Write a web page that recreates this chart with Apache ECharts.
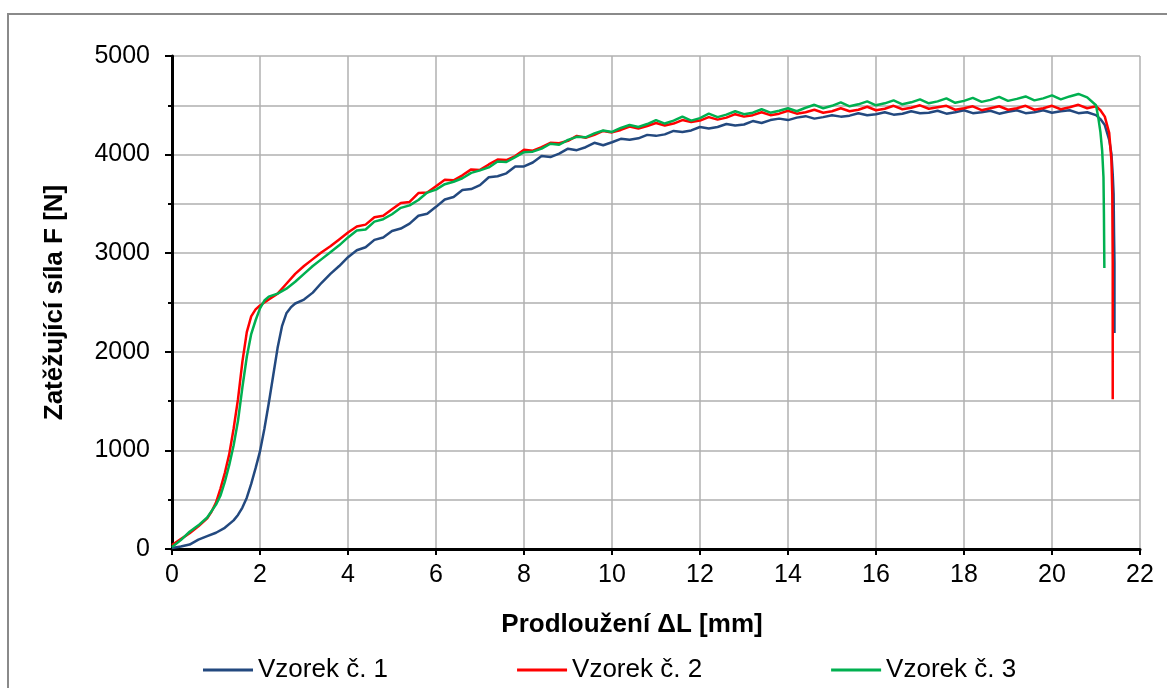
<!DOCTYPE html>
<html>
<head>
<meta charset="utf-8">
<script src="https://cdn.jsdelivr.net/npm/echarts@6/dist/echarts.min.js"></script>
<style>
  html, body { margin: 0; padding: 0; background: #fff; }
  #chart { width: 1167px; height: 688px; }
</style>
</head>
<body>
<div id="chart"></div>
<script>
// axis ticks
const X_TICKS = { min: 0, max: 22, step: 2 }
const Y_TICKS = { min: 0, max: 5000, step: 1000 }

const SERIES_NAMES = ['Vzorek č. 1', 'Vzorek č. 2', 'Vzorek č. 3']
const SERIES_COLORS = ['#23497f', '#ff0000', '#00b050']

// [prodloužení mm, síla N]
const vzorek1 = [
  [0, 10], [0.2, 25], [0.4, 45], [0.6, 95], [0.8, 130], [1.0, 165], [1.2, 215], [1.4, 290],
  [1.5, 345], [1.6, 420], [1.7, 520], [1.8, 660], [1.9, 820], [2.0, 990], [2.1, 1220],
  [2.2, 1480], [2.3, 1760], [2.4, 2040], [2.5, 2260], [2.6, 2390], [2.7, 2450], [2.8, 2490],
  [3.0, 2530], [3.2, 2600], [3.4, 2700], [3.6, 2790], [3.8, 2870],
  [4.0, 2960], [4.2, 3030], [4.4, 3060], [4.6, 3135], [4.8, 3160], [5.0, 3225], [5.2, 3250],
  [5.4, 3300], [5.6, 3380], [5.8, 3400], [6.0, 3470], [6.2, 3545], [6.4, 3570], [6.6, 3640],
  [6.8, 3650], [7.0, 3690], [7.2, 3770], [7.4, 3780], [7.6, 3810], [7.8, 3880], [8.0, 3880],
  [8.2, 3920], [8.4, 3985], [8.6, 3975], [8.8, 4010], [9.0, 4060], [9.2, 4045], [9.4, 4075],
  [9.6, 4120], [9.8, 4095], [10.0, 4125], [10.2, 4160], [10.4, 4150], [10.6, 4165], [10.8, 4200],
  [11.0, 4190], [11.2, 4205], [11.4, 4240], [11.6, 4230], [11.8, 4245], [12.0, 4280], [12.2, 4265],
  [12.4, 4280], [12.6, 4310], [12.8, 4295], [13.0, 4305], [13.2, 4340], [13.4, 4320], [13.6, 4350],
  [13.8, 4365], [14.0, 4350], [14.2, 4375], [14.4, 4390], [14.6, 4365], [14.8, 4380], [15.0, 4400],
  [15.2, 4385], [15.4, 4395], [15.6, 4420], [15.8, 4400], [16.0, 4410], [16.2, 4430], [16.4, 4405],
  [16.6, 4415], [16.8, 4440], [17.0, 4420], [17.2, 4425], [17.4, 4445], [17.6, 4415], [17.8, 4430],
  [18.0, 4450], [18.2, 4420], [18.4, 4430], [18.6, 4445], [18.8, 4415], [19.0, 4435], [19.2, 4450],
  [19.4, 4420], [19.6, 4430], [19.8, 4450], [20.0, 4425], [20.2, 4440], [20.4, 4450], [20.6, 4420],
  [20.8, 4430], [21.0, 4400], [21.1, 4360], [21.2, 4300], [21.3, 4150], [21.35, 4010], [21.38, 3800],
  [21.40, 3600], [21.41, 3200], [21.42, 2900], [21.42, 2190]
]

const vzorek2 = [
  [0, 40], [0.2, 100], [0.4, 160], [0.6, 230], [0.8, 310], [0.9, 380], [1.0, 470], [1.1, 610],
  [1.2, 770], [1.3, 960], [1.4, 1220], [1.5, 1520], [1.6, 1900], [1.7, 2200], [1.8, 2360],
  [1.9, 2430], [2.0, 2470], [2.2, 2530], [2.4, 2590], [2.6, 2690], [2.8, 2790], [3.0, 2870],
  [3.2, 2940], [3.4, 3010], [3.6, 3070], [3.8, 3140],
  [4.0, 3210], [4.2, 3270], [4.4, 3290], [4.6, 3365], [4.8, 3380], [5.0, 3445], [5.2, 3510],
  [5.4, 3520], [5.6, 3610], [5.8, 3615], [6.0, 3680], [6.2, 3745], [6.4, 3740], [6.6, 3790],
  [6.8, 3850], [7.0, 3845], [7.2, 3900], [7.4, 3950], [7.6, 3945], [7.8, 3985], [8.0, 4050],
  [8.2, 4040], [8.4, 4075], [8.6, 4120], [8.8, 4115], [9.0, 4140], [9.2, 4190], [9.4, 4170],
  [9.6, 4200], [9.8, 4240], [10.0, 4225], [10.2, 4250], [10.4, 4285], [10.6, 4265], [10.8, 4290],
  [11.0, 4320], [11.2, 4295], [11.4, 4315], [11.6, 4350], [11.8, 4330], [12.0, 4345], [12.2, 4380],
  [12.4, 4355], [12.6, 4375], [12.8, 4410], [13.0, 4385], [13.2, 4400], [13.4, 4430], [13.6, 4400],
  [13.8, 4415], [14.0, 4445], [14.2, 4415], [14.4, 4430], [14.6, 4455], [14.8, 4425], [15.0, 4440],
  [15.2, 4470], [15.4, 4440], [15.6, 4455], [15.8, 4485], [16.0, 4450], [16.2, 4465], [16.4, 4495],
  [16.6, 4460], [16.8, 4475], [17.0, 4500], [17.2, 4465], [17.4, 4480], [17.6, 4495], [17.8, 4455],
  [18.0, 4470], [18.2, 4490], [18.4, 4450], [18.6, 4470], [18.8, 4490], [19.0, 4455], [19.2, 4470],
  [19.4, 4495], [19.6, 4455], [19.8, 4470], [20.0, 4495], [20.2, 4460], [20.4, 4480], [20.6, 4505],
  [20.8, 4470], [21.0, 4490], [21.1, 4450], [21.2, 4385], [21.3, 4220], [21.35, 3950], [21.37, 3600],
  [21.38, 2900], [21.38, 1520]
]

const vzorek3 = [
  [0, 20], [0.2, 90], [0.4, 175], [0.6, 240], [0.8, 320], [1.0, 450], [1.1, 540], [1.2, 680],
  [1.3, 850], [1.4, 1050], [1.5, 1300], [1.6, 1640], [1.7, 1950], [1.8, 2180], [1.9, 2320],
  [2.0, 2440], [2.1, 2520], [2.2, 2560], [2.4, 2590], [2.6, 2640], [2.8, 2710], [3.0, 2790],
  [3.2, 2870], [3.4, 2940], [3.6, 3010], [3.8, 3080],
  [4.0, 3160], [4.2, 3230], [4.4, 3240], [4.6, 3320], [4.8, 3345], [5.0, 3395], [5.2, 3460],
  [5.4, 3485], [5.6, 3540], [5.8, 3615], [6.0, 3645], [6.2, 3700], [6.4, 3725], [6.6, 3760],
  [6.8, 3815], [7.0, 3840], [7.2, 3870], [7.4, 3930], [7.6, 3925], [7.8, 3975], [8.0, 4025],
  [8.2, 4030], [8.4, 4060], [8.6, 4110], [8.8, 4100], [9.0, 4150], [9.2, 4180], [9.4, 4175],
  [9.6, 4215], [9.8, 4245], [10.0, 4230], [10.2, 4270], [10.4, 4300], [10.6, 4280], [10.8, 4310],
  [11.0, 4350], [11.2, 4315], [11.4, 4345], [11.6, 4385], [11.8, 4345], [12.0, 4370], [12.2, 4415],
  [12.4, 4380], [12.6, 4405], [12.8, 4440], [13.0, 4410], [13.2, 4425], [13.4, 4460], [13.6, 4425],
  [13.8, 4445], [14.0, 4470], [14.2, 4440], [14.4, 4475], [14.6, 4505], [14.8, 4470], [15.0, 4495],
  [15.2, 4530], [15.4, 4490], [15.6, 4510], [15.8, 4540], [16.0, 4500], [16.2, 4520], [16.4, 4550],
  [16.6, 4510], [16.8, 4530], [17.0, 4560], [17.2, 4520], [17.4, 4540], [17.6, 4570], [17.8, 4525],
  [18.0, 4545], [18.2, 4575], [18.4, 4535], [18.6, 4555], [18.8, 4585], [19.0, 4545], [19.2, 4565],
  [19.4, 4590], [19.6, 4550], [19.8, 4570], [20.0, 4600], [20.2, 4560], [20.4, 4590], [20.6, 4615],
  [20.8, 4580], [21.0, 4500], [21.05, 4380], [21.1, 4230], [21.14, 4040], [21.17, 3770],
  [21.18, 3400], [21.19, 2850]
]

const FONT = '"Liberation Sans", Arial, sans-serif'
const GRID_LINE = { color: '#b0b0b0', width: 1.5 }

const chart = echarts.init(document.getElementById('chart'), null, { renderer: 'canvas' })

const option = {
  animation: false,
  backgroundColor: '#fff',
  textStyle: { fontFamily: FONT, color: '#000' },
  graphic: [{
    type: 'rect', z: -10,
    shape: { x: 8, y: 14, width: 1400, height: 900 },
    style: { fill: 'none', stroke: '#8a8a8a', lineWidth: 2 },
  }],
  grid: { left: 172, right: 27, top: 56, bottom: 139 },
  legend: {
    data: SERIES_NAMES,
    left: 198, top: 652,
    icon: 'rect', itemWidth: 50, itemHeight: 3, itemGap: 129,
    textStyle: { fontSize: 26, color: '#000', fontFamily: FONT },
  },
  xAxis: {
    type: 'value', min: X_TICKS.min, max: X_TICKS.max, interval: X_TICKS.step,
    name: 'Prodloužení ΔL [mm]', nameLocation: 'middle', nameGap: 63,
    nameTextStyle: { fontSize: 26, fontWeight: 'bold', color: '#000', fontFamily: FONT, padding: [0, 48, 0, 0] },
    axisLine: { show: true, onZero: false, lineStyle: { color: '#000', width: 3 } },
    axisTick: { show: true, length: 6, lineStyle: { color: '#000', width: 2 } },
    axisLabel: { fontSize: 25, color: '#000', margin: 14, fontFamily: FONT },
    splitLine: { show: true, lineStyle: GRID_LINE },
  },
  yAxis: {
    type: 'value', min: Y_TICKS.min, max: Y_TICKS.max, interval: Y_TICKS.step,
    name: 'Zatěžující síla F [N]', nameLocation: 'middle', nameGap: 104,
    nameTextStyle: { fontSize: 26, fontWeight: 'bold', color: '#000', fontFamily: FONT },
    axisLine: { show: true, onZero: false, lineStyle: { color: '#000', width: 3 } },
    axisTick: { show: true, length: 7, lineStyle: { color: '#000', width: 2 } },
    minorTick: { show: true, splitNumber: 2, length: 4, lineStyle: { color: '#000', width: 2 } },
    axisLabel: { fontSize: 25, color: '#000', margin: 22, fontFamily: FONT, formatter: v => String(v) },
    splitLine: { show: true, lineStyle: GRID_LINE },
    minorSplitLine: { show: true, lineStyle: GRID_LINE },
  },
  series: [vzorek1, vzorek2, vzorek3].map((d, i) => ({
    name: SERIES_NAMES[i],
    type: 'line',
    data: d,
    showSymbol: false,
    symbol: 'none',
    color: SERIES_COLORS[i],
    lineStyle: { color: SERIES_COLORS[i], width: 2.5 },
  })),
}

chart.setOption(option)
</script>
</body>
</html>
